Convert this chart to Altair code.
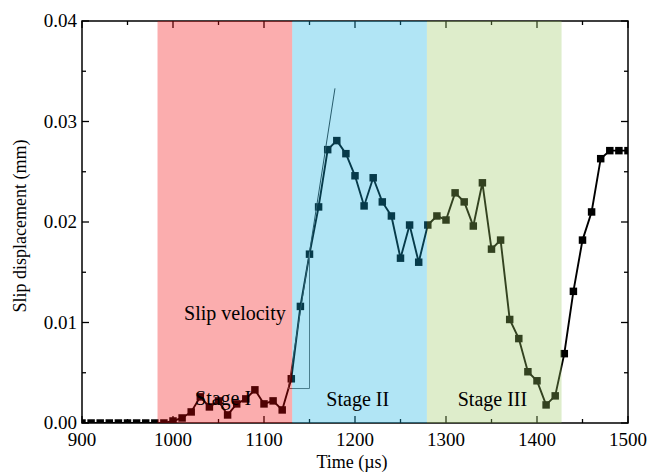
import altair as alt
import pandas as pd

# ---- data ----
time_us = [900, 910, 920, 930, 940, 950, 960, 970, 980, 990,
           1000, 1010, 1020, 1030, 1040, 1050, 1060, 1070, 1080, 1090,
           1100, 1110, 1120, 1130, 1140, 1150, 1160, 1170, 1180, 1190,
           1200, 1210, 1220, 1230, 1240, 1250, 1260, 1270, 1280, 1290,
           1300, 1310, 1320, 1330, 1340, 1350, 1360, 1370, 1380, 1390,
           1400, 1410, 1420, 1430, 1440, 1450, 1460, 1470, 1480, 1490, 1500]
slip_mm = [0, 0, 0, 0, 0, 0, 0, 0, 0, 0,
           0.0002, 0.0005, 0.0011, 0.0026, 0.0016, 0.0022, 0.0008, 0.0019, 0.0024, 0.0033,
           0.0019, 0.0022, 0.0013, 0.0044, 0.0116, 0.0168, 0.0215, 0.0272, 0.0281, 0.0268,
           0.0246, 0.0216, 0.0244, 0.0220, 0.0206, 0.0164, 0.0197, 0.0160, 0.0197, 0.0206,
           0.0202, 0.0229, 0.0220, 0.0196, 0.0239, 0.0173, 0.0182, 0.0103, 0.0084, 0.0051,
           0.0042, 0.0018, 0.0027, 0.0069, 0.0131, 0.0182, 0.0210, 0.0263, 0.0271, 0.0271, 0.0271]

stage_start = [983, 1131, 1279]
stage_end = [1131, 1279, 1427]
stage_color = ["#f2060a", "#13b0e0", "#9bc861"]

# slope triangle for "Slip velocity"
tangent_x = [1126.7, 1178]
tangent_y = [0.00343, 0.0333]
tri_x = [1126.7, 1150, 1150]
tri_y = [0.00343, 0.00343, 0.0170]

labels_text = ["Slip velocity", "Stage I", "Stage II", "Stage III"]
labels_x = [1068, 1055, 1203, 1351]
labels_y = [0.0108, 0.0024, 0.0023, 0.0023]

x_major = [900, 1000, 1100, 1200, 1300, 1400, 1500]
x_major_text = ["900", "1000", "1100", "1200", "1300", "1400", "1500"]
x_minor = [950, 1050, 1150, 1250, 1350, 1450]
y_major = [0.0, 0.01, 0.02, 0.03, 0.04]
y_major_text = ["0.00", "0.01", "0.02", "0.03", "0.04"]
y_minor = [0.005, 0.015, 0.025, 0.035]

x_title = "Time (µs)"
y_title = "Slip displacement (mm)"

W, H = 546, 402
FONT = "Liberation Serif"

df = pd.DataFrame({"t": time_us, "s": slip_mm})
stages = pd.DataFrame({"t": stage_start, "b": stage_end, "c": stage_color})
tan_df = pd.DataFrame({"t": tangent_x, "s": tangent_y, "o": [0, 1]})
tri_df = pd.DataFrame({"t": tri_x, "s": tri_y, "o": [0, 1, 2]})
lab_df = pd.DataFrame({"txt": labels_text, "t": labels_x, "s": labels_y})

xs = alt.Scale(domain=[900, 1500], nice=False, zero=False)
ys = alt.Scale(domain=[0, 0.04], nice=False, zero=False)

X = alt.X("t:Q", scale=xs, axis=None)
Y = alt.Y("s:Q", scale=ys, axis=None)

line = alt.Chart(df).mark_line(color="black", strokeWidth=1.9, clip=True).encode(x=X, y=Y)
pts = alt.Chart(df).mark_square(color="black", opacity=1, size=56, clip=True).encode(x=X, y=Y)

tan = alt.Chart(tan_df).mark_line(color="#333333", strokeWidth=1).encode(x=X, y=Y, order="o:Q")
tri = alt.Chart(tri_df).mark_line(color="#666666", strokeWidth=1).encode(x=X, y=Y, order="o:Q")

def xt(vals, length):
    d = pd.DataFrame({"t": vals})
    b = alt.Chart(d).mark_rule(color="black", strokeWidth=1.3)
    return [
        b.encode(x=X, y=alt.value(H), y2=alt.value(H - length)),
        b.encode(x=X, y=alt.value(0), y2=alt.value(length)),
    ]

def yt(vals, length):
    d = pd.DataFrame({"s": vals})
    b = alt.Chart(d).mark_rule(color="black", strokeWidth=1.3)
    return [
        b.encode(y=Y, x=alt.value(0), x2=alt.value(length)),
        b.encode(y=Y, x=alt.value(W), x2=alt.value(W - length)),
    ]

ticks = xt(x_major, 7) + xt(x_minor, 4) + yt(y_major, 7) + yt(y_minor, 4)

# tick labels and titles
xl = alt.Chart(pd.DataFrame({"t": x_major, "txt": x_major_text})).mark_text(
    font=FONT, fontSize=19, color="black", align="center", baseline="middle"
).encode(x=X, y=alt.value(H + 17), text="txt:N")
yl = alt.Chart(pd.DataFrame({"s": y_major, "txt": y_major_text})).mark_text(
    font=FONT, fontSize=19, color="black", align="right", baseline="middle"
).encode(y=Y, x=alt.value(-5), text="txt:N")
xtitle = alt.Chart(pd.DataFrame({"txt": [x_title]})).mark_text(
    font=FONT, fontSize=18, color="black", align="center", baseline="middle"
).encode(x=alt.value(W / 2 - 3), y=alt.value(H + 40), text="txt:N")
ytitle = alt.Chart(pd.DataFrame({"txt": [y_title]})).mark_text(
    font=FONT, fontSize=18, color="black", align="center", baseline="middle", angle=270
).encode(x=alt.value(-61), y=alt.value(H / 2 + 4), text="txt:N")

rects = alt.Chart(stages).mark_rect(opacity=0.33).encode(
    x=X, x2="b:Q", y=alt.value(0), y2=alt.value(H),
    color=alt.Color("c:N", scale=None, legend=None))

texts = alt.Chart(lab_df).mark_text(font=FONT, fontSize=20, color="black",
                                     baseline="middle", align="center").encode(
    x=X, y=Y, text="txt:N")

chart = alt.layer(line, pts, tan, tri, *ticks, rects, texts,
                  xl, yl, xtitle, ytitle).properties(
    width=W, height=H,
    background="white",
    autosize=alt.AutoSizeParams(type="none"),
    padding={"left": 82, "top": 21, "right": 22, "bottom": 50},
).configure_view(stroke="black", strokeWidth=1.5)

chart.save("out.html", embed_options={"renderer": "svg", "actions": False})
